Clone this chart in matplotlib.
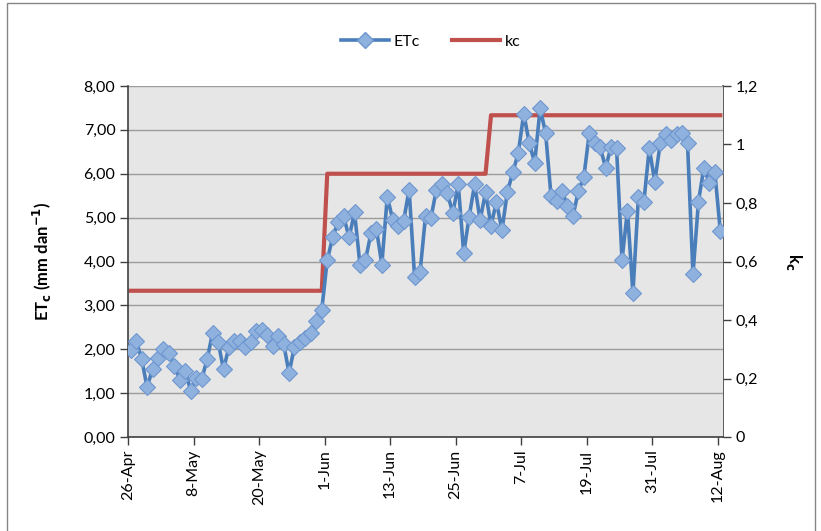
import matplotlib
matplotlib.use("Agg")
import matplotlib.pyplot as plt
from matplotlib.ticker import FuncFormatter, MultipleLocator
from matplotlib.lines import Line2D
import pandas as pd

# daily crop evapotranspiration (mm/day), 26-Apr .. 12-Aug
etc_values = [
    1.98, 2.19, 1.78, 1.13, 1.56, 1.81, 2.00, 1.92, 1.62, 1.31,
    1.50, 1.05, 1.34, 1.32, 1.77, 2.38, 2.17, 1.54, 2.06, 2.19,
    2.19, 2.06, 2.17, 2.42, 2.44, 2.32, 2.07, 2.30, 2.13, 1.46,
    2.06, 2.17, 2.25, 2.38, 2.65, 2.90, 4.03, 4.56, 4.90, 5.03,
    4.55, 5.12, 3.92, 4.03, 4.64, 4.75, 3.93, 5.48, 4.95, 4.81,
    4.93, 5.64, 3.65, 3.75, 5.03, 5.00, 5.64, 5.76, 5.56, 5.10,
    5.76, 4.19, 5.02, 5.76, 4.94, 5.58, 4.82, 5.36, 4.71, 5.59,
    6.03, 6.48, 7.37, 6.70, 6.25, 7.49, 6.93, 5.49, 5.38, 5.61,
    5.26, 5.03, 5.60, 5.92, 6.92, 6.70, 6.60, 6.14, 6.62, 6.58,
    4.04, 5.16, 3.28, 5.47, 5.36, 6.58, 5.82, 6.69, 6.90, 6.78,
    6.90, 6.92, 6.69, 3.71, 5.36, 6.14, 5.79, 6.04, 4.70,
]

# crop coefficient by growth stage: days in each stage and its kc
kc_stage_days = [36, 30, 43]
kc_stage_values = [0.5, 0.9, 1.1]

start_day = "2013-04-26"
tick_step_days = 12

dates = pd.date_range(start_day + " 12:00", periods=len(etc_values), freq="D")
kc_values = []
for n, v in zip(kc_stage_days, kc_stage_values):
    kc_values += [v] * n

plt.rcParams["font.family"] = ["Lato", "DejaVu Sans"]

fig = plt.figure(figsize=(8.21, 5.31), dpi=100)
ax = fig.add_axes([128 / 821, 1 - 437 / 531, 595 / 821, 351 / 531])
ax2 = ax.twinx()

ax.set_facecolor("#E6E6E6")
ax.set_zorder(ax2.get_zorder() + 1)
ax.patch.set_visible(True)
ax2.patch.set_visible(False)

blue = "#4A7EBB"
ax.plot(dates, etc_values, color=blue, lw=2.6, marker="D", ms=7.8,
        mfc="#8FB1DE", mec="#6E97CF", mew=0.8, zorder=3)
# kc drawn on the same axes (scaled to the right axis) so it sits behind ETc
ax.plot(dates, [k * 8 / 1.2 for k in kc_values], color="#C0504D", lw=3.0,
        solid_capstyle="projecting", zorder=2)

ax.set_ylim(0, 8)
ax2.set_ylim(0, 1.2)
x0 = pd.Timestamp(start_day)
ax.set_xlim(x0, x0 + pd.Timedelta(days=len(etc_values)))

ax.yaxis.set_major_locator(MultipleLocator(1))
ax.yaxis.set_major_formatter(FuncFormatter(lambda v, p: f"{v:.2f}".replace(".", ",")))
ax2.yaxis.set_major_locator(MultipleLocator(0.2))
ax2.yaxis.set_major_formatter(
    FuncFormatter(lambda v, p: (f"{v:.1f}".rstrip("0").rstrip(".")).replace(".", ","))
)

tick_dates = pd.date_range(start_day, dates[-1], freq=f"{tick_step_days}D")
ax.set_xticks(tick_dates)
ax.set_xticklabels([f"{d.day}-{d.strftime('%b')}" for d in tick_dates], rotation=90)

ax.grid(axis="y", color="#9C9C9C", lw=1.0)
ax.set_axisbelow(True)

for a in (ax, ax2):
    a.tick_params(labelsize=11.5, length=6, width=1, color="#404040", pad=3)
    for s in a.spines.values():
        s.set_visible(False)
ax.spines["left"].set_visible(True)
ax.spines["bottom"].set_visible(True)
ax2.spines["right"].set_visible(True)
for s in (ax.spines["left"], ax.spines["bottom"], ax2.spines["right"]):
    s.set_color("#404040")
    s.set_linewidth(1.2)

ax.set_ylabel("ET$_\\mathbf{c}$ (mm dan$^\\mathbf{-1}$)", fontsize=12, fontweight="bold")
ax.yaxis.set_label_coords(-0.125, 0.5)
ax2.set_ylabel("k$_\\mathbf{c}$", fontsize=12, fontweight="bold", rotation=270, va="center")
ax2.yaxis.set_label_coords(1.12, 0.5)

handles = [
    Line2D([], [], color=blue, lw=2.6, marker="D", ms=7.8, mfc="#8FB1DE", mec="#6E97CF"),
    Line2D([], [], color="#C0504D", lw=3.0),
]
fig.legend(handles, ["ETc", "kc"], loc="center", bbox_to_anchor=(0.525, 1 - 42 / 531),
           ncol=2, frameon=False, fontsize=11.5, handlelength=3.0, columnspacing=2.0,
           handletextpad=0.3)

# chart area border
fig.add_artist(plt.Rectangle((7 / 821, -0.05), 808 / 821, 1.05 - 3 / 531,
                             transform=fig.transFigure, fill=False,
                             edgecolor="#868686", lw=1.0))

fig.savefig("out.png", dpi=100)
